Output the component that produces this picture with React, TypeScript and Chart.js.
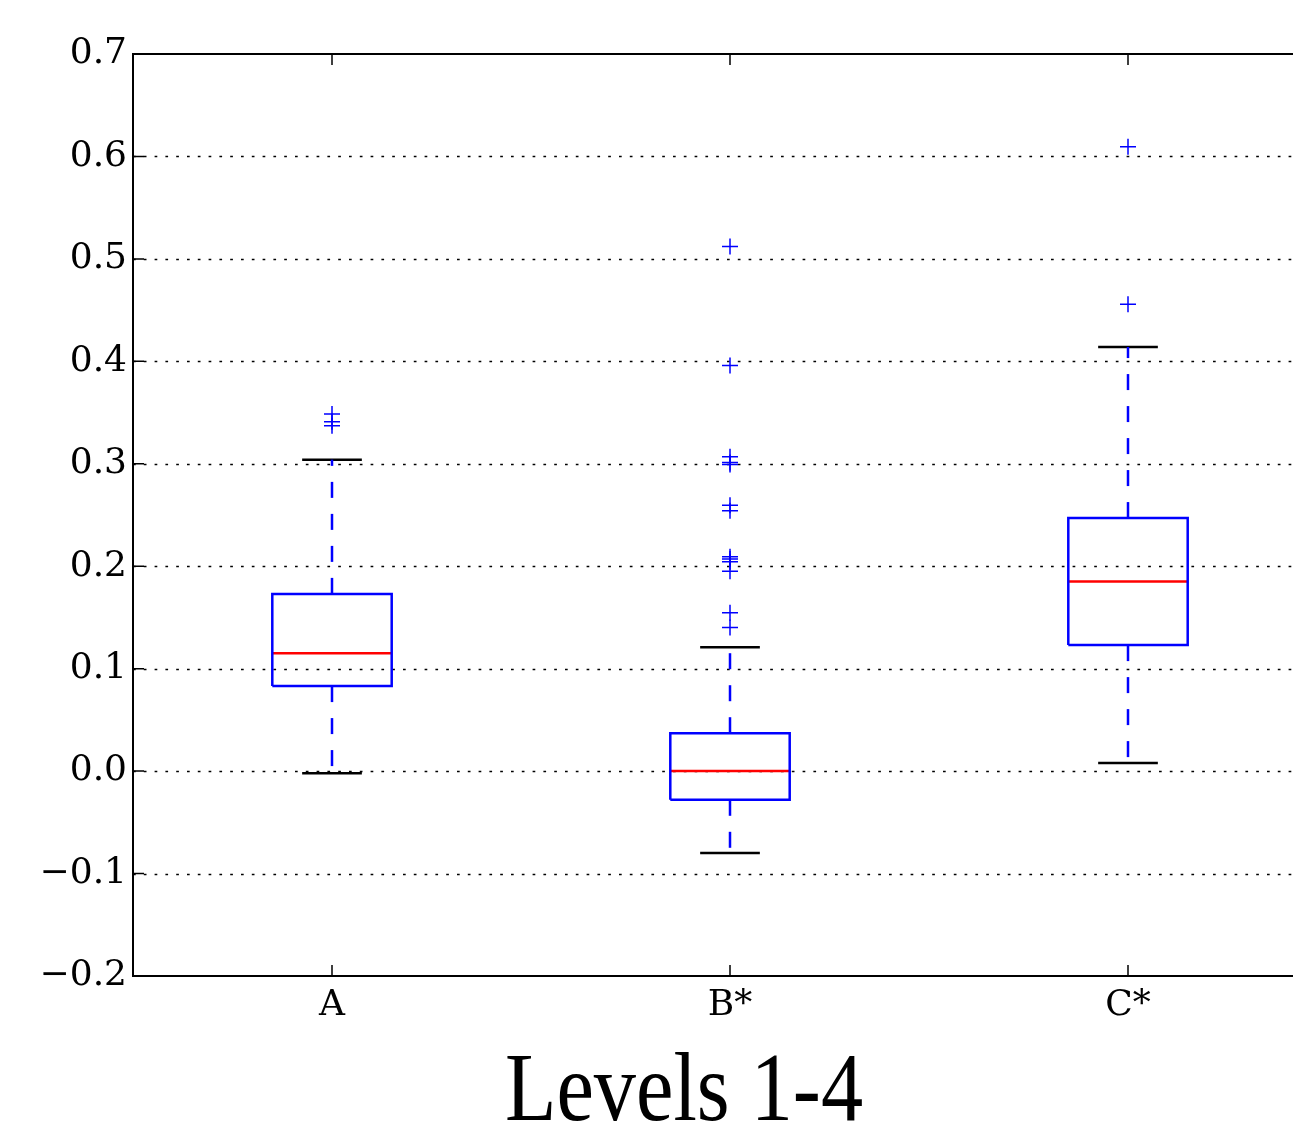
import React, { useEffect, useRef } from "react";
import { Chart, registerables } from "chart.js";

Chart.register(...registerables);

const categories = ["A", "B*", "C*"];
const whiskerLow = [-0.002, -0.08, 0.008];
const q1 = [0.083, -0.028, 0.123];
const median = [0.115, 0.0, 0.185];
const q3 = [0.173, 0.037, 0.247];
const whiskerHigh = [0.304, 0.121, 0.414];
const outliersA = [0.3485, 0.341, 0.337];
const outliersB = [0.512, 0.396, 0.3068, 0.3013, 0.2994, 0.2594, 0.2541, 0.2092, 0.207, 0.2043, 0.1952, 0.1545, 0.1403];
const outliersC = [0.6094, 0.4556];
const outliers = [outliersA, outliersB, outliersC];
const yTicks = [-0.2, -0.1, 0.0, 0.1, 0.2, 0.3, 0.4, 0.5, 0.6, 0.7];
const title = "Levels 1-4";

const BOX_HALF = 0.15;
const CAP_HALF = 0.075;
const BLUE = "#0000ff";
const LW = 2.5;

const CANVAS_W = 1400;
const CANVAS_H = 1040;

const framePlugin = {
  id: "mplFrame",
  beforeDatasetsDraw(chart: any) {
    const { ctx, chartArea, scales } = chart;
    const y = scales.y;
    ctx.save();
    ctx.strokeStyle = "#000";
    ctx.lineWidth = 1.5;
    ctx.setLineDash([2.7, 8.1]);
    yTicks.forEach((v) => {
      if (v === yTicks[0] || v === yTicks[yTicks.length - 1]) return;
      const py = Math.round(y.getPixelForValue(v)) + 0.5;
      ctx.beginPath();
      ctx.moveTo(chartArea.left, py);
      ctx.lineTo(chartArea.right, py);
      ctx.stroke();
    });
    ctx.restore();
  },
  afterDatasetsDraw(chart: any) {
    const { ctx, chartArea, scales } = chart;
    const x = scales.x;
    const y = scales.y;
    ctx.save();
    ctx.strokeStyle = "#000";
    ctx.setLineDash([]);
    ctx.lineWidth = 1.5;
    const TL = 11;
    yTicks.forEach((v) => {
      const py = y.getPixelForValue(v);
      ctx.beginPath();
      ctx.moveTo(chartArea.left, py);
      ctx.lineTo(chartArea.left + TL, py);
      ctx.moveTo(chartArea.right, py);
      ctx.lineTo(chartArea.right - TL, py);
      ctx.stroke();
    });
    categories.forEach((_, i) => {
      const px = x.getPixelForValue(i + 1);
      ctx.beginPath();
      ctx.moveTo(px, chartArea.bottom);
      ctx.lineTo(px, chartArea.bottom - TL);
      ctx.moveTo(px, chartArea.top);
      ctx.lineTo(px, chartArea.top + TL);
      ctx.stroke();
    });
    ctx.lineWidth = 2;
    ctx.strokeRect(chartArea.left, chartArea.top, chartArea.right - chartArea.left, chartArea.bottom - chartArea.top);
    ctx.restore();
  },
};

function lineDs(points: { x: number; y: number }[], color: string, dash: number[] = []) {
  return {
    type: "line" as const,
    data: points,
    borderColor: color,
    borderWidth: LW,
    borderDash: dash,
    pointRadius: 0,
    fill: false,
    tension: 0,
    showLine: true,
    order: 2,
  };
}

export default function App() {
  const ref = useRef<HTMLCanvasElement | null>(null);

  useEffect(() => {
    if (!ref.current) return;
    const datasets: any[] = [];
    categories.forEach((_, i) => {
      const c = i + 1;
      datasets.push(
        lineDs(
          [
            { x: c - BOX_HALF, y: q1[i] },
            { x: c + BOX_HALF, y: q1[i] },
            { x: c + BOX_HALF, y: q3[i] },
            { x: c - BOX_HALF, y: q3[i] },
            { x: c - BOX_HALF, y: q1[i] },
          ],
          BLUE
        )
      );
      datasets.push(lineDs([{ x: c, y: q1[i] }, { x: c, y: whiskerLow[i] }], BLUE, [16, 16]));
      datasets.push(lineDs([{ x: c, y: q3[i] }, { x: c, y: whiskerHigh[i] }], BLUE, [16, 16]));
      datasets.push(lineDs([{ x: c - CAP_HALF, y: whiskerLow[i] }, { x: c + CAP_HALF, y: whiskerLow[i] }], "#000"));
      datasets.push(lineDs([{ x: c - CAP_HALF, y: whiskerHigh[i] }, { x: c + CAP_HALF, y: whiskerHigh[i] }], "#000"));
      datasets.push(lineDs([{ x: c - BOX_HALF, y: median[i] }, { x: c + BOX_HALF, y: median[i] }], "#ff0000"));
      datasets.push({
        type: "scatter",
        data: outliers[i].map((v) => ({ x: c, y: v })),
        pointStyle: "cross",
        pointRadius: 8,
        borderColor: BLUE,
        borderWidth: 1.5,
        backgroundColor: BLUE,
        order: 1,
      });
    });

    const chart = new Chart(ref.current, {
      type: "scatter",
      data: { datasets },
      options: {
        animation: false,
        responsive: false,
        devicePixelRatio: 1,
        layout: { padding: { top: 54, right: 73, left: 0, bottom: 0 } },
        plugins: { legend: { display: false }, tooltip: { enabled: false }, title: { display: false } },
        scales: {
          x: {
            type: "linear",
            min: 0.5,
            max: 3.5,
            grid: { display: false, drawTicks: false },
            border: { display: false },
            afterBuildTicks: (scale: any) => {
              scale.ticks = categories.map((_, i) => ({ value: i + 1 }));
            },
            afterFit: (scale: any) => {
              scale.height = CANVAS_H - 976;
            },
            ticks: {
              autoSkip: false,
              maxRotation: 0,
              padding: 8,
              color: "#000",
              font: { family: "DejaVu Serif", size: 36 },
              callback: (v: any) => categories[Math.round(Number(v)) - 1] ?? "",
            },
          },
          y: {
            type: "linear",
            min: -0.2,
            max: 0.7,
            grid: { display: false, drawTicks: false },
            border: { display: false },
            afterBuildTicks: (scale: any) => {
              scale.ticks = yTicks.map((v) => ({ value: v }));
            },
            afterFit: (scale: any) => {
              scale.width = 133;
            },
            ticks: {
              padding: 6,
              color: "#000",
              font: { family: "DejaVu Serif", size: 36 },
              callback: (v: any) => {
                const n = Number(v);
                if (Math.abs(n) < 1e-9) return "0.0";
                const s = Math.abs(n).toFixed(1);
                return n < 0 ? "\u2212" + s : s;
              },
            },
          },
        },
      },
      plugins: [framePlugin],
    } as any);
    return () => chart.destroy();
  }, []);

  return (
    <div
      style={{
        position: "fixed",
        left: 0,
        top: 0,
        width: 1293,
        height: 1122,
        overflow: "hidden",
        background: "#fff",
      }}
    >
      <canvas ref={ref} width={CANVAS_W} height={CANVAS_H} style={{ position: "absolute", left: 0, top: 0, width: CANVAS_W, height: CANVAS_H }} />
      <div
        style={{
          position: "absolute",
          left: 683.5 - 400,
          width: 800,
          top: 1038,
          textAlign: "center",
          fontFamily: "'Liberation Serif', serif",
          fontSize: 98,
          lineHeight: 1,
          whiteSpace: "nowrap",
          color: "#000",
          transform: "scaleX(0.86)",
          transformOrigin: "center",
        }}
      >
        {title}
      </div>
    </div>
  );
}
